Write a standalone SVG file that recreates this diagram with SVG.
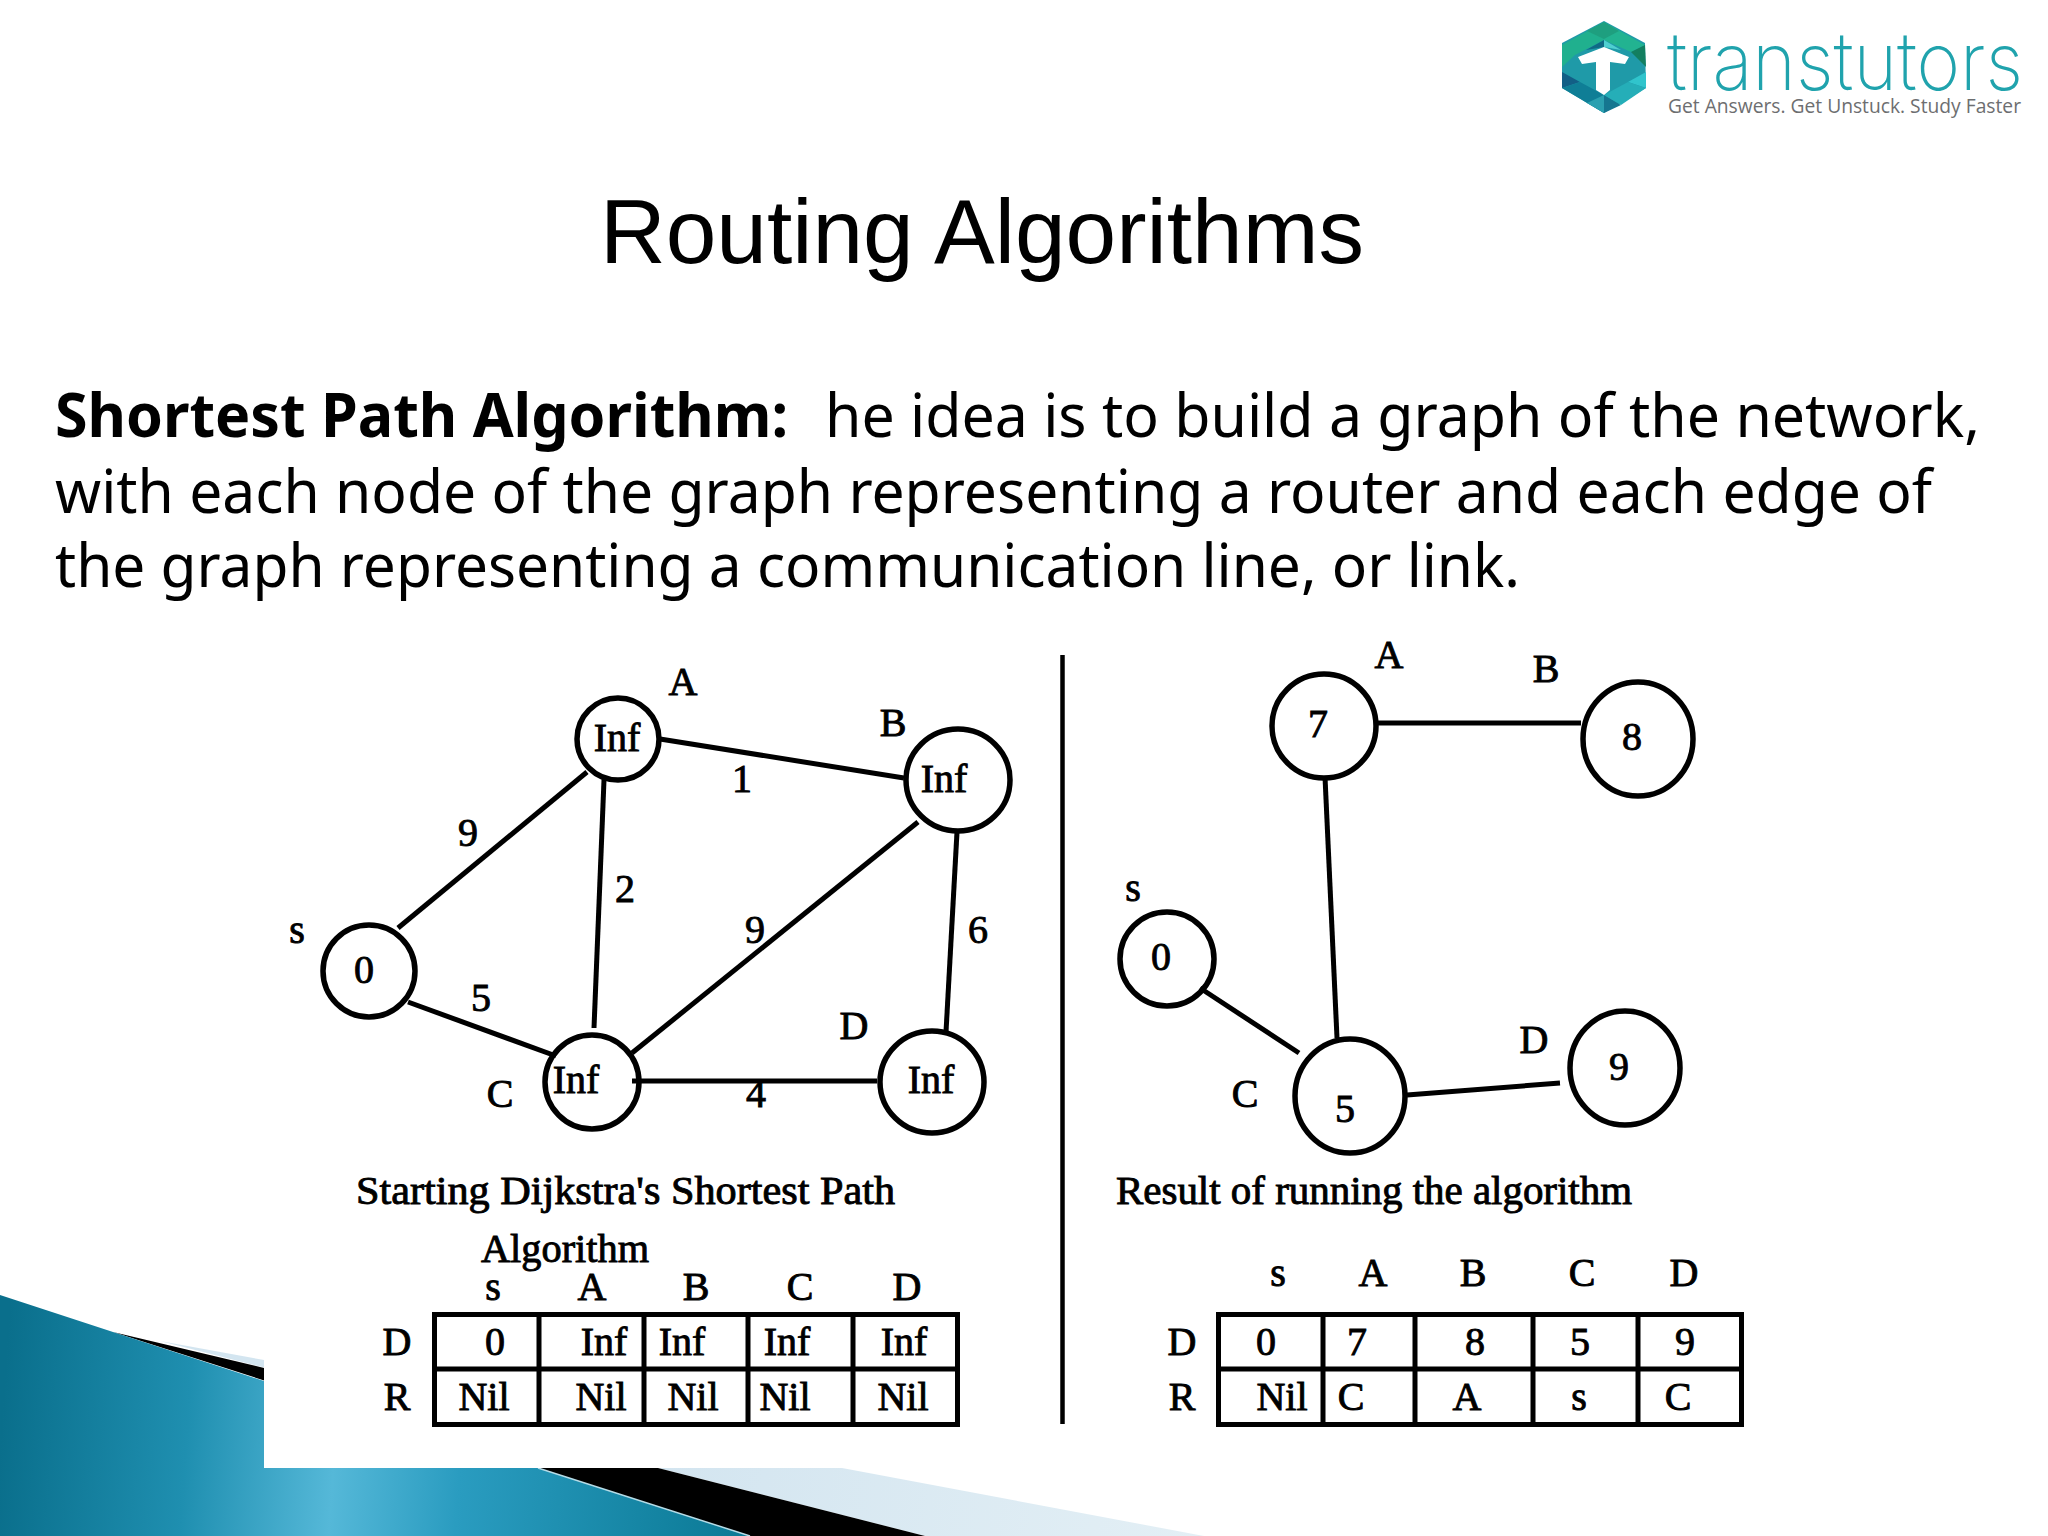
<svg xmlns="http://www.w3.org/2000/svg" width="2048" height="1536" viewBox="0 0 2048 1536">
<style>
.t{font-family:"Liberation Serif","Times New Roman",serif;font-size:40px;fill:#000;stroke:#000;stroke-width:.9px;text-anchor:middle}
.cap{text-anchor:start}
.n{fill:none;stroke:#000;stroke-width:5.5px}
.e{stroke:#000;stroke-width:5px;fill:none}
.g{fill:none;stroke:#000;stroke-width:5px}
.b{font-family:"Noto Sans","Open Sans",sans-serif;font-size:61px;fill:#000}
</style>
<defs>
<linearGradient id="teal" gradientUnits="userSpaceOnUse" x1="0" y1="1450" x2="740" y2="1500">
<stop offset="0" stop-color="#0a6f8c"/><stop offset=".25" stop-color="#1f8fb0"/><stop offset=".45" stop-color="#55b8d8"/><stop offset=".62" stop-color="#2a9cc0"/><stop offset="1" stop-color="#0b7a96"/>
</linearGradient>
<linearGradient id="pale" gradientUnits="userSpaceOnUse" x1="660" y1="1468" x2="1200" y2="1536">
<stop offset="0" stop-color="#d3e5f0"/><stop offset="1" stop-color="#e3eff5"/>
</linearGradient>
</defs>
<rect width="2048" height="1536" fill="#fff"/>
<g id="decor">
<polygon points="160,1341 264,1360 842,1468 1204,1536 925,1536" fill="url(#pale)"/>
<polygon points="113,1332 264,1368 658,1468 925,1536 750,1536" fill="#000"/>
<polygon points="0,1295 113,1332 264,1381 538,1468 750,1536 0,1536" fill="url(#teal)"/>
<line x1="538" y1="1468" x2="750" y2="1536" stroke="#b5dbe6" stroke-width="1.5"/>
<rect x="264" y="1200" width="1784" height="268" fill="#fff"/>
</g>
<g id="logo">
<polygon points="1562,43 1604,21 1645,43 1646,88 1604,113 1562,88" fill="#1f9aa8"/>
<polygon points="1562,45 1604,22 1604,40 1575,55 1562,67" fill="#20b08e"/>
<polygon points="1604,22 1645,45 1631,52 1604,40" fill="#22b391"/>
<polygon points="1587,31 1604,22 1619,31 1604,39" fill="#1e9f7f"/>
<polygon points="1645,45 1646,67 1631,52" fill="#137f60"/>
<polygon points="1586,50 1604,40 1604,47" fill="#0f6a85"/>
<polygon points="1604,40 1621,50 1604,47" fill="#4fcfd0"/>
<polygon points="1562,72 1580,82 1562,88" fill="#125f86"/>
<polygon points="1562,88 1580,82 1604,95 1604,113" fill="#0f7e96"/>
<polygon points="1587,103 1604,95 1604,113" fill="#2ba0b0"/>
<polygon points="1604,95 1621,105 1604,113" fill="#157690"/>
<polygon points="1628,82 1646,72 1646,88" fill="#30c4cc"/>
<polygon points="1604,95 1628,82 1646,88 1621,105" fill="#25aeb8"/>
<polygon points="1578,57 1604,47 1629,57 1625,64 1610,62 1610,90 1604,95 1596,90 1596,62 1582,64" fill="#fff"/>
<text x="1667" y="90" font-family="Inter,Lato,sans-serif" font-weight="200" font-size="80" fill="#20a3ad" textLength="356" lengthAdjust="spacingAndGlyphs">transtutors</text>
<text x="1668" y="113" font-family="'Open Sans','Noto Sans',sans-serif" font-size="19.5" fill="#6d6e70" textLength="353" lengthAdjust="spacingAndGlyphs">Get Answers. Get Unstuck. Study Faster</text>
</g>
<text id="title" x="600" y="263" font-family="'Liberation Sans',Arial,sans-serif" font-size="90" fill="#000" textLength="764" lengthAdjust="spacingAndGlyphs">Routing Algorithms</text>
<g id="body">
<text class="b" x="55" y="437" font-weight="700" textLength="733" lengthAdjust="spacingAndGlyphs">Shortest Path Algorithm:</text>
<text class="b" x="825" y="437" textLength="1155" lengthAdjust="spacingAndGlyphs">he idea is to build a graph of the network,</text>
<text class="b" x="55" y="513" textLength="1877" lengthAdjust="spacingAndGlyphs">with each node of the graph representing a router and each edge of</text>
<text class="b" x="55" y="587" textLength="1465" lengthAdjust="spacingAndGlyphs">the graph representing a communication line, or link.</text>
</g>
<line id="divider" x1="1062.5" y1="655" x2="1062.5" y2="1424" stroke="#000" stroke-width="4.5"/>
<g id="connectors">
<line class="e" x1="660" y1="739" x2="904" y2="778"/>
<line class="e" x1="398" y1="928" x2="587" y2="772"/>
<line class="e" x1="604" y1="780" x2="594" y2="1028"/>
<line class="e" x1="408" y1="1002" x2="556" y2="1056"/>
<line class="e" x1="632" y1="1053" x2="918" y2="822"/>
<line class="e" x1="957" y1="832" x2="946" y2="1032"/>
<line class="e" x1="632" y1="1081" x2="877" y2="1081"/>
<line class="e" x1="1377" y1="723" x2="1581" y2="723"/>
<line class="e" x1="1325" y1="777" x2="1337" y2="1038"/>
<line class="e" x1="1200" y1="988" x2="1299" y2="1053"/>
<line class="e" x1="1407" y1="1095" x2="1560" y2="1083"/>
</g>
<g id="g1-s"><circle class="n" cx="369" cy="971" r="46"/><text class="t" x="364" y="983">0</text><text class="t" x="297" y="943">s</text></g>
<g id="g1-A"><ellipse class="n" cx="618" cy="739" rx="41" ry="41"/><text class="t" x="617" y="751">Inf</text><text class="t" x="683" y="695">A</text></g>
<g id="g1-B"><ellipse class="n" cx="958" cy="780" rx="52" ry="51"/><text class="t" x="944" y="792">Inf</text><text class="t" x="893" y="736">B</text></g>
<g id="g1-C"><ellipse class="n" cx="592" cy="1082" rx="47" ry="47"/><text class="t" x="576" y="1093">Inf</text><text class="t" x="500" y="1107">C</text></g>
<g id="g1-D"><ellipse class="n" cx="932" cy="1082" rx="52" ry="51"/><text class="t" x="931" y="1093">Inf</text><text class="t" x="854" y="1039">D</text></g>
<g id="g1-weights"><text class="t" x="742" y="792">1</text><text class="t" x="468" y="846">9</text><text class="t" x="625" y="902">2</text><text class="t" x="755" y="943">9</text><text class="t" x="978" y="943">6</text><text class="t" x="481" y="1011">5</text><text class="t" x="756" y="1107">4</text></g>
<g id="g2-A"><ellipse class="n" cx="1324" cy="726" rx="52" ry="52"/><text class="t" x="1318" y="737">7</text><text class="t" x="1389" y="668">A</text></g>
<g id="g2-B"><ellipse class="n" cx="1638" cy="739" rx="55" ry="57"/><text class="t" x="1632" y="750">8</text><text class="t" x="1546" y="682">B</text></g>
<g id="g2-s"><ellipse class="n" cx="1167" cy="959" rx="47" ry="47"/><text class="t" x="1161" y="970">0</text><text class="t" x="1133" y="901">s</text></g>
<g id="g2-C"><ellipse class="n" cx="1350" cy="1096" rx="55" ry="57"/><text class="t" x="1345" y="1122">5</text><text class="t" x="1245" y="1107">C</text></g>
<g id="g2-D"><ellipse class="n" cx="1625" cy="1068" rx="55" ry="57"/><text class="t" x="1619" y="1080">9</text><text class="t" x="1534" y="1053">D</text></g>
<g id="captions">
<text class="t cap" x="356" y="1204" textLength="539" lengthAdjust="spacingAndGlyphs">Starting Dijkstra's Shortest Path</text>
<text class="t cap" x="481" y="1262" textLength="168" lengthAdjust="spacingAndGlyphs">Algorithm</text>
<text class="t cap" x="1116" y="1204" textLength="516" lengthAdjust="spacingAndGlyphs">Result of running the algorithm</text>
</g>
<g id="table1">
<rect class="g" x="434.5" y="1314.5" width="523" height="110"/>
<path class="g" d="M539 1314V1425M644 1314V1425M748 1314V1425M853 1314V1425M434 1369H958"/>
<text class="t" x="493" y="1300">s</text><text class="t" x="592" y="1300">A</text><text class="t" x="696" y="1300">B</text><text class="t" x="800" y="1300">C</text><text class="t" x="907" y="1300">D</text>
<text class="t" x="397" y="1355">D</text><text class="t" x="397" y="1410">R</text>
<text class="t" x="495" y="1355">0</text><text class="t" x="604" y="1355">Inf</text><text class="t" x="682" y="1355">Inf</text><text class="t" x="787" y="1355">Inf</text><text class="t" x="904" y="1355">Inf</text>
<text class="t" x="484" y="1410">Nil</text><text class="t" x="601" y="1410">Nil</text><text class="t" x="693" y="1410">Nil</text><text class="t" x="785" y="1410">Nil</text><text class="t" x="903" y="1410">Nil</text>
</g>
<g id="table2">
<rect class="g" x="1218.5" y="1314.5" width="523" height="110"/>
<path class="g" d="M1323 1314V1425M1415 1314V1425M1533 1314V1425M1638 1314V1425M1218 1369H1742"/>
<text class="t" x="1278" y="1286">s</text><text class="t" x="1373" y="1286">A</text><text class="t" x="1473" y="1286">B</text><text class="t" x="1582" y="1286">C</text><text class="t" x="1684" y="1286">D</text>
<text class="t" x="1182" y="1355">D</text><text class="t" x="1182" y="1410">R</text>
<text class="t" x="1266" y="1355">0</text><text class="t" x="1357" y="1355">7</text><text class="t" x="1475" y="1355">8</text><text class="t" x="1580" y="1355">5</text><text class="t" x="1685" y="1355">9</text>
<text class="t" x="1282" y="1410">Nil</text><text class="t" x="1351" y="1410">C</text><text class="t" x="1467" y="1410">A</text><text class="t" x="1579" y="1410">s</text><text class="t" x="1678" y="1410">C</text>
</g>
</svg>
